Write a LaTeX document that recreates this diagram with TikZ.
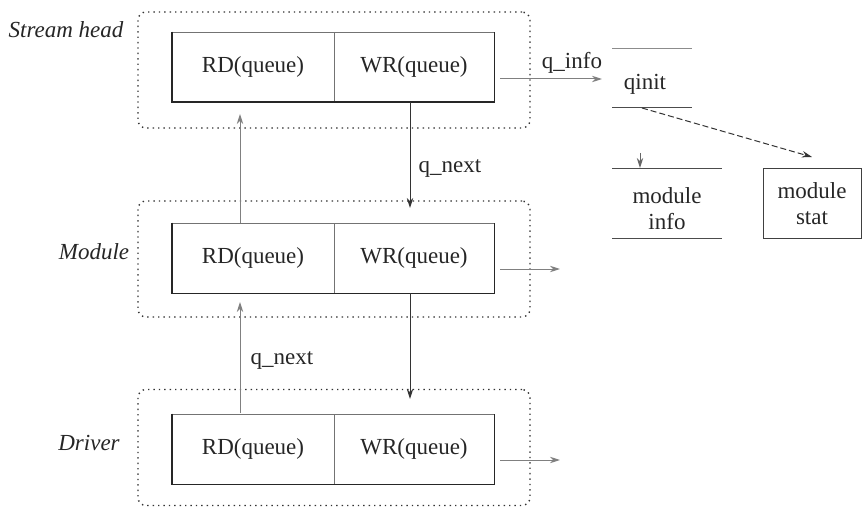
\documentclass[tikz,border=0pt]{standalone}
\usepackage{fontspec}
\setmainfont{Liberation Serif}
\usetikzlibrary{arrows.meta}
\begin{document}
\begin{tikzpicture}[x=0.5pt,y=-0.5pt,
  txt/.style={font=\fontsize{11.5}{12}\selectfont,inner sep=0pt,text=black!85},
  twoline/.style={txt,font=\fontsize{11.5}{13}\selectfont,align=center},
  layername/.style={txt,font=\fontsize{11.5}{12}\selectfont\itshape},
  layer/.style={draw=black!80,dotted,line width=0.7pt,rounded corners=4pt,minimum width=196pt,minimum height=58pt,inner sep=0pt},
  half/.style={txt,draw=black!55,line width=0.4pt,minimum height=35pt},
  rdhalf/.style={half,minimum width=81pt},
  wrhalf/.style={half,minimum width=80pt},
  edge/.style={draw=black!85,line width=0.9pt},
  arr/.style={-{Stealth[length=5pt,width=3.2pt]},line width=0.5pt,draw=black!80},
  uparr/.style={arr,draw=black!50},
  rule/.style={draw=black!70,line width=0.5pt},
  statbox/.style={twoline,draw=black!75,line width=0.5pt,minimum width=49pt,minimum height=35pt}
]
\useasboundingbox (0,0) rectangle (863,508);

% layers (dotted frames)
\node[layer] (sframe) at (334,70) {};
\node[layer] (mframe) at (334,259) {};
\node[layer] (dframe) at (334,447.5) {};

% layer names
\node[layername] (sname) at (66,30) {Stream head};
\node[layername] (mname) at (94,252) {Module};
\node[layername] (dname) at (89,443) {Driver};

% queue pairs
\node[rdhalf] (srd) at (253,67) {RD(queue)};
\node[wrhalf] (swr) at (414,67) {WR(queue)};
\node[rdhalf] (mrd) at (253,258) {RD(queue)};
\node[wrhalf] (mwr) at (414,258) {WR(queue)};
\node[rdhalf] (drd) at (253,449) {RD(queue)};
\node[wrhalf] (dwr) at (414,449) {WR(queue)};

\draw[edge] (srd.north west) -- (srd.south west) -- (swr.south east) -- (swr.north east);
\draw[edge] (mrd.north west) -- (mrd.south west) -- (mwr.south east) -- (mwr.north east);
\draw[edge] (drd.north west) -- (drd.south west) -- (dwr.south east) -- (dwr.north east);

% connector end points
\coordinate (s-down) at (410,102);
\coordinate (m-downtip) at (410,208);
\coordinate (m-down) at (410,293);
\coordinate (d-downtip) at (410,399);
\coordinate (m-up) at (240,223);
\coordinate (s-uptip) at (240,114);
\coordinate (d-up) at (240,413);
\coordinate (m-uptip) at (240,302);
\coordinate (s-out) at (500,79);
\coordinate (qinit-in) at (602,79);
\coordinate (m-out) at (500,269);
\coordinate (m-outtip) at (560,269);
\coordinate (d-out) at (500,460);
\coordinate (d-outtip) at (560,460);

\draw[arr] (s-down) -- (m-downtip);
\draw[arr] (m-down) -- (d-downtip);
\draw[uparr] (m-up) -- (s-uptip);
\draw[uparr] (d-up) -- (m-uptip);
\draw[uparr] (s-out) -- (qinit-in);
\draw[uparr] (m-out) -- (m-outtip);
\draw[uparr] (d-out) -- (d-outtip);

\node[txt] (qinfo) at (572,63) {q\_info};
\node[txt] (qnext1) at (450,168) {q\_next};
\node[txt] (qnext2) at (282,360) {q\_next};

% qinit
\node[txt] (qinit) at (645,84) {qinit};
\coordinate (qinit-tl) at (612,49);
\coordinate (qinit-tr) at (692,49);
\coordinate (qinit-bl) at (612,108);
\coordinate (qinit-br) at (692,108);
\draw[rule,draw=black!45] (qinit-tl) -- (qinit-tr);
\draw[rule] (qinit-bl) -- (qinit-br);

% module info
\node[twoline] (minfo) at (667,209) {module\\info};
\coordinate (minfo-tl) at (612,169);
\coordinate (minfo-tr) at (722,169);
\coordinate (minfo-bl) at (612,239);
\coordinate (minfo-br) at (722,239);
\draw[rule] (minfo-tl) -- (minfo-tr);
\draw[rule] (minfo-bl) -- (minfo-br);
\coordinate (minfo-from) at (640,153);
\coordinate (minfo-to) at (640,168);
\draw[arr,draw=black!60] (minfo-from) -- (minfo-to);

% module stat
\node[statbox] (mstat) at (812,204) {module\\stat};
\coordinate (qinit-dash) at (642,108);
\coordinate (mstat-tip) at (812,157);
\draw[arr,dashed,dash pattern=on 3pt off 1.5pt] (qinit-dash) -- (mstat-tip);

\end{tikzpicture}
\end{document}
